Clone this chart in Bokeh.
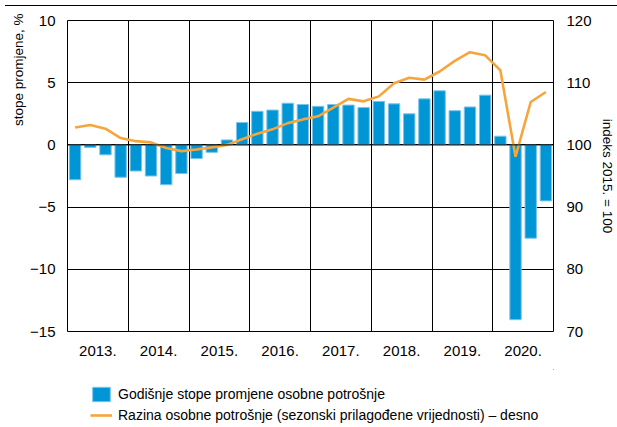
from bokeh.plotting import figure
from bokeh.models import (Range1d, LinearAxis, FixedTicker, Legend,
                          LegendItem, Div, Span, ColumnDataSource, Title)
from bokeh.layouts import column
from bokeh.embed import file_html
from bokeh.resources import INLINE

years = ["2013.", "2014.", "2015.", "2016.", "2017.", "2018.", "2019.", "2020."]
growth = [-2.8, -0.2, -0.8, -2.6,
          -2.1, -2.5, -3.2, -2.3,
          -1.1, -0.6, 0.4, 1.8,
          2.7, 2.8, 3.35, 3.25,
          3.1, 3.25, 3.2, 3.0,
          3.5, 3.3, 2.5, 3.7,
          4.35, 2.75, 3.05, 4.0,
          0.7, -14.05, -7.5, -4.5]
level = [102.8, 103.2, 102.6, 101.1,
         100.6, 100.4, 99.5, 99.0,
         99.25, 99.6, 100.0, 100.9,
         101.8, 102.5, 103.5, 104.1,
         104.6, 106.0, 107.4, 107.0,
         107.8, 109.9, 110.8, 110.5,
         111.8, 113.5, 114.9, 114.4,
         112.0, 98.1, 106.9, 108.5]
left_ticks = [-15, -10, -5, 0, 5, 10]
right_ticks = [70, 80, 90, 100, 110, 120]
left_title = "stope promjene, %"
right_title = "indeks 2015. = 100"
legend_labels = ["Godišnje stope promjene osobne potrošnje",
                 "Razina osobne potrošnje (sezonski prilagođene vrijednosti) \u2013 desno"]

FONT = "Liberation Sans"
BLUE = "#0096d6"
BAR_EDGE = "#7cc3ea"
ORANGE = "#f6a53c"

n = len(growth)
src = ColumnDataSource(dict(x=[i + 0.5 for i in range(n)], growth=growth, level=level))

# ---------------- main chart ----------------
p = figure(width=617, height=358, x_range=Range1d(0, n), y_range=Range1d(-15, 10),
           output_backend="svg", toolbar_location=None,
           min_border_left=67, min_border_right=60, min_border_top=9, min_border_bottom=38)
p.extra_y_ranges = {"right": Range1d(70, 120)}
p.outline_line_color = "black"
p.outline_line_width = 1
p.background_fill_color = "white"
p.border_fill_color = "white"

bars = p.vbar(x="x", top="growth", width=0.75, bottom=0, source=src,
              fill_color=BLUE, line_color=BAR_EDGE, line_width=1)
p.add_layout(Span(location=0, dimension="width", line_color="black", line_width=1))
ln = p.line("x", "level", source=src, y_range_name="right",
            line_color=ORANGE, line_width=2.6)

p.xgrid.ticker = FixedTicker(ticks=[4 * k for k in range(1, len(years))])
p.xgrid.grid_line_color = "black"
p.xgrid.grid_line_width = 1
p.ygrid.ticker = FixedTicker(ticks=left_ticks[1:-1])
p.ygrid.grid_line_color = "black"
p.ygrid.grid_line_width = 1


def style_axis(ax, standoff):
    ax.axis_line_color = None
    ax.major_tick_line_color = None
    ax.minor_tick_line_color = None
    ax.major_tick_out = 0
    ax.major_tick_in = 0
    ax.minor_tick_out = 0
    ax.minor_tick_in = 0
    ax.major_label_standoff = standoff
    ax.major_label_text_font = FONT
    ax.major_label_text_font_size = "15px"
    ax.major_label_text_color = "black"
    ax.axis_label_text_font = FONT
    ax.axis_label_text_font_size = "13.5px"
    ax.axis_label_text_font_style = "normal"
    ax.axis_label_text_color = "black"


xa = p.xaxis[0]
xa.ticker = FixedTicker(ticks=[4 * k + 2 for k in range(len(years))])
xa.major_label_overrides = {4 * k + 2: y for k, y in enumerate(years)}
style_axis(xa, 14)

ya = p.yaxis[0]
ya.ticker = FixedTicker(ticks=left_ticks)
ya.major_label_overrides = {t: (f"\u2212{abs(t)}" if t < 0 else str(t)) for t in left_ticks}
style_axis(ya, 12)

ra = LinearAxis(y_range_name="right", ticker=FixedTicker(ticks=right_ticks))
style_axis(ra, 13)
p.add_layout(ra, "right")

# tick-less outer axis that only carries the right-hand title, placed along
# the upper part of the axis (as in the original layout)
ra_title = LinearAxis(y_range_name="right", ticker=FixedTicker(ticks=[]),
                      bounds=(104.5, 120))
style_axis(ra_title, 0)
ra_title.axis_label = right_title
ra_title.axis_label_standoff = 5
p.add_layout(ra_title, "right")

p.add_layout(Title(text=left_title, align="right", offset=-7, standoff=3,
                   text_font=FONT, text_font_size="13.5px", text_font_style="normal",
                   text_color="black"), "left")

# ---------------- legend strip ----------------
lg = figure(width=617, height=56, x_range=Range1d(-200, -199), y_range=Range1d(-200, -199),
            output_backend="svg", toolbar_location=None,
            x_axis_location=None, y_axis_location=None,
            min_border_left=0, min_border_right=0, min_border_top=0, min_border_bottom=0)
lg.grid.visible = False
lg.outline_line_color = None
lg.background_fill_color = "white"
lg.border_fill_color = "white"
lg_bars = lg.vbar(x="x", top="growth", width=0.75, bottom=0, source=src,
                  fill_color=BLUE, line_color=BAR_EDGE, line_width=1)
lg_line = lg.line("x", "level", source=src, line_color=ORANGE, line_width=2.6)

legend = Legend(items=[
    LegendItem(label=legend_labels[0], renderers=[lg_bars]),
    LegendItem(label=legend_labels[1], renderers=[lg_line]),
], location=(23, 1), orientation="vertical")
legend.background_fill_alpha = 0
legend.border_line_color = None
legend.padding = 0
legend.margin = 0
legend.spacing = 3
legend.glyph_width = 22
legend.glyph_height = 18
legend.label_height = 18
legend.label_standoff = 6
legend.label_text_font = FONT
legend.label_text_font_size = "14px"
legend.label_text_color = "black"
legend.label_text_baseline = "middle"
lg.add_layout(legend, "center")

top_line = Div(text="", width=612, height=1,
               styles={"border-top": "1px solid black", "margin-left": "5px"})

layout = column(top_line, p, lg, spacing=0)
open("out.html", "w").write(file_html(layout, INLINE))
